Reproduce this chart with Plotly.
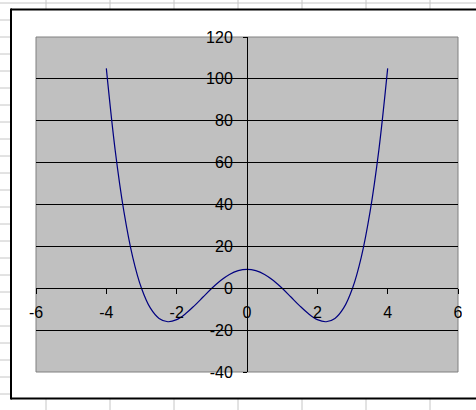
import plotly.graph_objects as go

# Data
x_vals = [-4.0, -3.75, -3.5, -3.25, -3.0, -2.75, -2.5, -2.25, -2.0, -1.75, -1.5, -1.25, -1.0,
          -0.75, -0.5, -0.25, 0.0, 0.25, 0.5, 0.75, 1.0, 1.25, 1.5, 1.75, 2.0, 2.25, 2.5,
          2.75, 3.0, 3.25, 3.5, 3.75, 4.0]
y_vals = [105.0, 66.1, 36.6, 14.9, 0.0, -9.4, -14.4, -16.0, -15.0, -12.2, -8.4, -4.2, 0.0,
          3.7, 6.6, 8.4, 9.0, 8.4, 6.6, 3.7, 0.0, -4.2, -8.4, -12.2, -15.0, -16.0, -14.4,
          -9.4, 0.0, 14.9, 36.6, 66.1, 105.0]
x_ticks = [-6, -4, -2, 0, 2, 4, 6]
y_ticks = [-40, -20, 0, 20, 40, 60, 80, 100, 120]

W, H = 476, 410
L, R, T, B = 36, 18, 37, 38
PW, PH = W - L - R, H - T - B


def fx(px):
    return (px - L) / PW


def fy(py):
    return (H - B - py) / PH


def pline(x0, y0, x1, y1, color, width, layer="below"):
    return dict(type="line", xref="paper", yref="paper", layer=layer,
                x0=fx(x0), x1=fx(x1), y0=fy(y0), y1=fy(y1),
                line=dict(color=color, width=width))


shapes = []
grid_col = "#c6c6c6"
# spreadsheet cell grid
for k in range(0, 25):
    yy = 3 + 17 * k
    if yy < H:
        shapes.append(pline(0, yy, W, yy, grid_col, 1))
for k in range(0, 8):
    xx = 46 + 64 * k
    if xx < W:
        shapes.append(pline(xx, 0, xx, H, grid_col, 1))
# chart area (white fill, border on left/top/bottom only)
shapes.append(dict(type="rect", xref="paper", yref="paper", layer="below",
                   x0=fx(11), x1=fx(W), y0=fy(9.5), y1=fy(398.5),
                   fillcolor="white", line=dict(width=0)))
shapes.append(pline(11, 9.5, W, 9.5, "black", 2))
shapes.append(pline(11, 398.5, W, 398.5, "black", 2))
shapes.append(pline(11, 8.5, 11, 399.5, "black", 2))
# plot area
shapes.append(dict(type="rect", xref="paper", yref="paper", layer="below",
                   x0=fx(36), x1=fx(458), y0=fy(37), y1=fy(372),
                   fillcolor="#c0c0c0", line=dict(color="#808080", width=1)))
# keep the chart area's right strip blank
shapes.append(dict(type="rect", xref="paper", yref="paper", layer="above",
                   x0=fx(462), x1=fx(W + 10), y0=fy(11), y1=fy(397),
                   fillcolor="white", line=dict(width=0)))

fig = go.Figure()
fig.add_trace(go.Scatter(x=x_vals, y=y_vals, mode="lines",
                         line=dict(color="#000080", width=1.2, shape="spline"),
                         hoverinfo="skip"))

x_pos = (0 - (-40)) / 160.0
y_pos = (0 - (-6)) / 12.0

fig.update_layout(
    width=W, height=H,
    margin=dict(l=L, r=R, t=T, b=B),
    paper_bgcolor="white",
    plot_bgcolor="rgba(0,0,0,0)",
    showlegend=False,
    shapes=shapes,
    font=dict(family="Liberation Sans, Arial, sans-serif", size=16, color="black"),
    xaxis=dict(range=[-6, 6], tickvals=x_ticks, ticktext=[str(v) for v in x_ticks],
               showgrid=False, zeroline=False, anchor="free", position=x_pos,
               showline=True, linecolor="black", linewidth=1,
               ticks="outside", ticklen=5, tickcolor="black", tickwidth=1,
               ticklabelstandoff=5),
    yaxis=dict(range=[-40, 120], tickvals=y_ticks, ticktext=[str(v) for v in y_ticks],
               showgrid=True, gridcolor="black", gridwidth=1, zeroline=False,
               anchor="free", position=y_pos,
               showline=True, linecolor="black", linewidth=1,
               ticks="outside", ticklen=4, tickcolor="black", tickwidth=1,
               ticklabelstandoff=7),
)

fig.write_html("out.html", config={"displayModeBar": False},
               post_script="document.body.style.margin='0';document.body.style.overflow='hidden';"
                           "document.documentElement.style.overflow='hidden';")
